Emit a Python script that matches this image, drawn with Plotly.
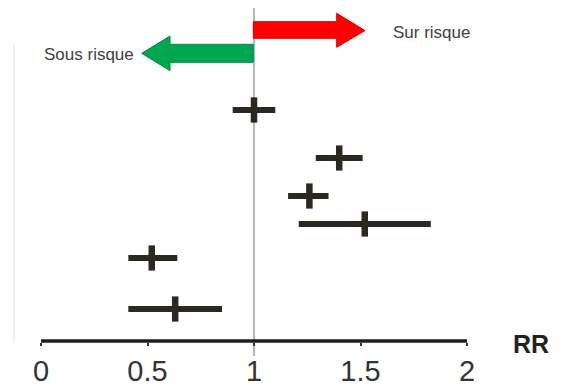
import plotly.graph_objects as go

# ---- data ----
studies = ["Étude 1", "Étude 2", "Étude 3", "Étude 4", "Étude 5", "Étude 6"]
rr = [1.00, 1.40, 1.26, 1.52, 0.52, 0.63]
ci_low = [0.90, 1.29, 1.16, 1.21, 0.41, 0.41]
ci_high = [1.10, 1.51, 1.35, 1.83, 0.64, 0.85]
row_pos = [11.0, 15.8, 19.6, 22.4, 25.8, 30.9]   # vertical position of each study (top = 0)
tick_vals = [0, 0.5, 1, 1.5, 2]
tick_text = ["0", "0.5", "1", "1.5", "2"]

OFF = 8                      # default page margin of the html body
W, H = 565 - OFF, 389 - OFF
FONT = "Arial, Liberation Sans, sans-serif"
DARK = "#2a2820"

err_plus = [h - r for h, r in zip(ci_high, rr)]
err_minus = [r - l for r, l in zip(rr, ci_low)]

# x scale: 0 -> 41 px, 2 -> 467 px (window pixels)
px_per = 213.0
x0_px = 41 - OFF
x_left = -x0_px / px_per
x_right = (W - x0_px) / px_per


def px(xp):
    return (xp - 41) / px_per


def py(yp):
    return (yp - OFF) / 10.0


row_y = [py(r * 10) for r in row_pos]

fig = go.Figure()
fig.add_trace(go.Scatter(
    x=rr, y=row_y, mode="markers", text=studies,
    marker=dict(symbol="line-ns", size=18, line=dict(width=6.5, color=DARK), color=DARK),
    error_x=dict(type="data", symmetric=False, array=err_plus, arrayminus=err_minus,
                 thickness=6, width=0, color=DARK),
    showlegend=False, hoverinfo="text+x",
))

shapes = []
# reference line at RR = 1
shapes.append(dict(type="line", xref="x", yref="y", x0=1, x1=1, y0=py(8), y1=py(356),
                   layer="below", line=dict(color="#a0a0a0", width=1.5)))
# faint left border line
shapes.append(dict(type="line", xref="x", yref="y", x0=px(14), x1=px(14), y0=py(43), y1=py(343),
                   layer="below", line=dict(color="#e4e4e4", width=1)))
# axis line from 0 to 2
shapes.append(dict(type="line", xref="x", yref="y", x0=0, x1=2, y0=py(341), y1=py(341),
                   line=dict(color="#1e1e1e", width=3.5)))


def P(xp, yp):
    return f"{px(xp)},{py(yp)}"


red_path = ("M " + P(253.3, 21.7) + " L " + P(336.7, 21.7) + " L " + P(336.7, 13.3) +
            " L " + P(365, 30.5) + " L " + P(336.7, 47.3) + " L " + P(336.7, 38.3) +
            " L " + P(253.3, 38.3) + " Z")
shapes.append(dict(type="path", xref="x", yref="y", path=red_path,
                   fillcolor="#ff0000", line=dict(color="#d80000", width=1)))
green_path = ("M " + P(253.3, 44.3) + " L " + P(170, 44.3) + " L " + P(170, 36) +
              " L " + P(141.7, 53.3) + " L " + P(170, 70.7) + " L " + P(170, 62.3) +
              " L " + P(253.3, 62.3) + " Z")
shapes.append(dict(type="path", xref="x", yref="y", path=green_path,
                   fillcolor="#00a650", line=dict(color="#008a40", width=1)))

annotations = [
    dict(x=px(89.3), y=py(54), xref="x", yref="y", text="Sous risque", showarrow=False,
         font=dict(family=FONT, size=17, color="#404040"), xanchor="center", yanchor="middle"),
    dict(x=px(431.7), y=py(32.3), xref="x", yref="y", text="Sur risque", showarrow=False,
         font=dict(family=FONT, size=17, color="#404040"), xanchor="center", yanchor="middle"),
    dict(x=px(531), y=py(344), xref="x", yref="y", text="<b>RR</b>", showarrow=False,
         font=dict(family=FONT, size=25, color="#222222"), xanchor="center", yanchor="middle"),
]

fig.update_layout(
    width=W, height=H,
    margin=dict(l=0, r=0, t=0, b=0),
    paper_bgcolor="white", plot_bgcolor="white",
    shapes=shapes, annotations=annotations,
    xaxis=dict(range=[x_left, x_right], tickvals=tick_vals, ticktext=tick_text,
               showgrid=False, zeroline=False, showline=False,
               ticks="outside", ticklen=3, tickwidth=1.5, tickcolor="#333333",
               tickfont=dict(family=FONT, size=29, color="#333333"),
               anchor="free", position=(H - (342 - OFF)) / H, fixedrange=True),
    yaxis=dict(range=[H / 10.0, 0], visible=False, showgrid=False, zeroline=False, fixedrange=True),
)

fig.write_html("out.html")
